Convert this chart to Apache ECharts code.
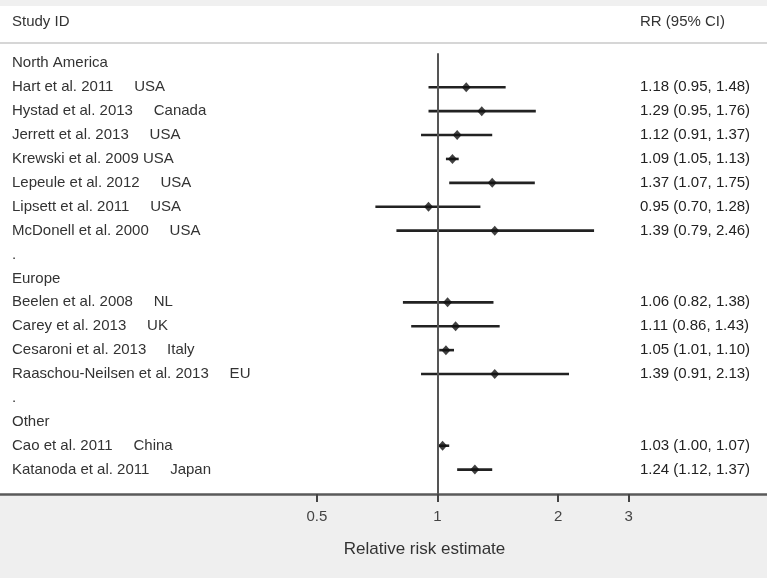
<!DOCTYPE html>
<html>
<head>
<meta charset="utf-8">
<script src="https://cdn.jsdelivr.net/npm/echarts@6/dist/echarts.min.js"></script>
<style>html,body{margin:0;padding:0;background:#fff}#c{width:767px;height:578px}</style>
</head>
<body>
<div id="c"></div>
<script>
// Row labels (left column), in display order
var rowLabels = [
  "North America",
  "Hart et al. 2011     USA",
  "Hystad et al. 2013     Canada",
  "Jerrett et al. 2013     USA",
  "Krewski et al. 2009 USA",
  "Lepeule et al. 2012     USA",
  "Lipsett et al. 2011     USA",
  "McDonell et al. 2000     USA",
  ".",
  "Europe",
  "Beelen et al. 2008     NL",
  "Carey et al. 2013     UK",
  "Cesaroni et al. 2013     Italy",
  "Raaschou-Neilsen et al. 2013     EU",
  ".",
  "Other",
  "Cao et al. 2011     China",
  "Katanoda et al. 2011     Japan"
];
// Study rows (index into rowLabels) and estimates
var studyRows = [1, 2, 3, 4, 5, 6, 7, 10, 11, 12, 13, 16, 17];
var rrEst   = [1.18, 1.29, 1.12, 1.09, 1.37, 0.95, 1.39, 1.06, 1.11, 1.05, 1.39, 1.03, 1.24];
var rrLow   = [0.95, 0.95, 0.91, 1.05, 1.07, 0.70, 0.79, 0.82, 0.86, 1.01, 0.91, 1.00, 1.12];
var rrHigh  = [1.48, 1.76, 1.37, 1.13, 1.75, 1.28, 2.46, 1.38, 1.43, 1.10, 2.13, 1.07, 1.37];
var xTicks  = [0.5, 1, 2, 3];
var refValue = 1;

function fmt2(v){ return v.toFixed(2); }
var rightText = {};
studyRows.forEach(function(r, i){
  rightText[r] = fmt2(rrEst[i]) + " (" + fmt2(rrLow[i]) + ", " + fmt2(rrHigh[i]) + ")";
});

var ciData = studyRows.map(function(r, i){ return [Math.log(rrLow[i]), Math.log(rrHigh[i]), r]; });
var ptData = studyRows.map(function(r, i){ return [Math.log(rrEst[i]), r]; });
var allRows = rowLabels.map(function(_, i){ return i; });

var yMin = -0.81, yMax = 18.02;
var chart = echarts.init(document.getElementById('c'), null, {renderer: 'canvas'});
var font = '"Liberation Sans", Arial, Helvetica, sans-serif';
chart.setOption({
  animation: false,
  backgroundColor: '#ffffff',
  textStyle: {fontFamily: font},
  title: [
    {text: 'Study ID', left: 12, top: 14, padding: 0, textStyle: {fontSize: 15, fontWeight: 'normal', color: '#333', fontFamily: font}},
    {text: 'RR (95% CI)', left: 640, top: 14, padding: 0, textStyle: {fontSize: 15, fontWeight: 'normal', color: '#333', fontFamily: font}}
  ],
  graphic: [
    {type: 'rect', shape: {x: 0, y: 0, width: 767, height: 6}, style: {fill: '#f0f0f0'}, z: -10, silent: true},
    {type: 'rect', shape: {x: 0, y: 494, width: 767, height: 84}, style: {fill: '#efefef'}, z: -10, silent: true},
    {type: 'line', shape: {x1: 0, y1: 43, x2: 767, y2: 43}, style: {stroke: '#d6d6d6', lineWidth: 2}, z: -5, silent: true}
  ],
  grid: {left: 0, top: 44, width: 767, height: 450, containLabel: false, outerBoundsMode: 'none'},
  xAxis: {
    type: 'value',
    min: -2.514, max: 1.894,
    splitLine: {show: false},
    axisLine: {show: true, onZero: false, lineStyle: {color: '#5a5a5a', width: 2.5}},
    axisTick: {show: true, customValues: xTicks.map(Math.log), length: 8, lineStyle: {color: '#444', width: 2}},
    axisLabel: {show: true, customValues: xTicks.map(Math.log), margin: 15, fontSize: 15, color: '#444', fontFamily: font,
      formatter: function(v){ return String(Math.round(Math.exp(v) * 10) / 10); }},
    name: 'Relative risk estimate', nameLocation: 'middle', nameGap: 47,
    nameTextStyle: {fontSize: 17, color: '#333', fontFamily: font, padding: [0, 0, 0, 82]}
  },
  yAxis: [
    {
      type: 'value', position: 'left', min: yMin, max: yMax, inverse: true,
      axisLine: {show: false}, axisTick: {show: false}, splitLine: {show: false},
      axisLabel: {show: true, inside: true, margin: 12, align: 'left', customValues: allRows, fontSize: 15, color: '#333', fontFamily: font,
        formatter: function(v){ return rowLabels[v] || ''; }}
    },
    {
      type: 'value', position: 'right', min: yMin, max: yMax, inverse: true,
      axisLine: {show: false}, axisTick: {show: false}, splitLine: {show: false},
      axisLabel: {show: true, inside: true, margin: 127, align: 'left', customValues: studyRows, fontSize: 15, color: '#222', fontFamily: font,
        formatter: function(v){ return rightText[v] || ''; }}
    }
  ],
  series: [
    {
      type: 'scatter', data: [], z: 1, silent: true,
      markLine: {
        silent: true, symbol: ['none', 'none'], label: {show: false},
        lineStyle: {color: '#555', width: 2, type: 'solid'},
        data: [[{coord: [Math.log(refValue), -0.42]}, {coord: [Math.log(refValue), yMax]}]]
      }
    },
    {
      type: 'custom', z: 3, silent: true, data: ciData,
      encode: {x: [0, 1], y: 2},
      renderItem: function(params, api){
        var a = api.coord([api.value(0), api.value(2)]);
        var b = api.coord([api.value(1), api.value(2)]);
        return {type: 'line', shape: {x1: a[0], y1: a[1], x2: b[0], y2: b[1]}, style: {stroke: '#222', lineWidth: 2.6}};
      }
    },
    {
      type: 'scatter', z: 4, silent: true, data: ptData,
      symbol: 'diamond', symbolSize: [9, 10],
      itemStyle: {color: '#111'}
    }
  ]
});
</script>
</body>
</html>
